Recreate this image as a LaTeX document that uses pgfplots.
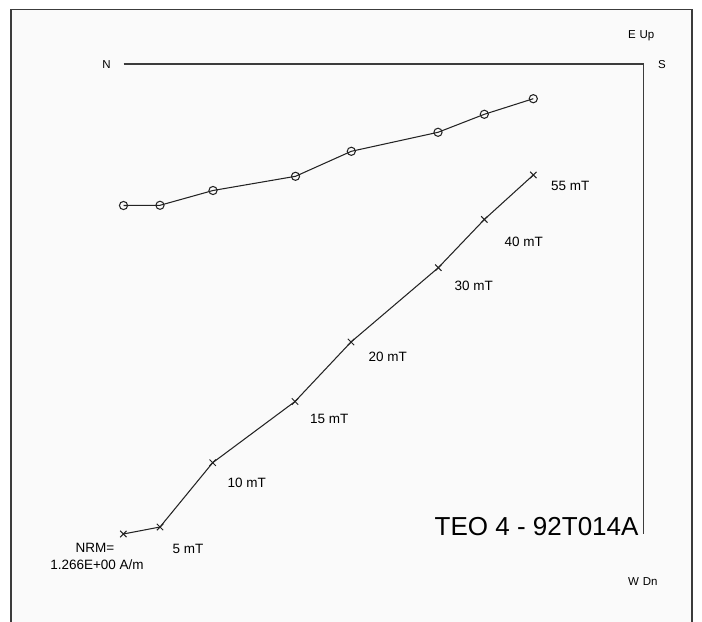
\documentclass[border=0pt]{standalone}
\usepackage{pgfplots}
\pgfplotsset{compat=1.18}
\usepackage{fontspec}
\setmainfont{Liberation Sans}
\definecolor{ink}{RGB}{35,35,35}
\definecolor{frame}{RGB}{60,60,60}
\definecolor{bg}{RGB}{250,250,250}
\begin{document}
\begin{tikzpicture}
\useasboundingbox (0,0) rectangle (702bp,622bp);
\clip (0,0) rectangle (702bp,622bp);
\fill[white] (0,0) rectangle (702bp,622bp);
\begin{axis}[
  at={(0,0)}, anchor=south west,
  scale only axis, width=702bp, height=622bp,
  xmin=0, xmax=702, ymin=0, ymax=622, y dir=reverse,
  hide axis, clip=false,
  every node/.style={text=ink, inner sep=0pt},
]
% frame
\draw[frame, line width=1.2bp, fill=bg] (axis cs:11,9.5) rectangle (axis cs:692,660);
% axes of the diagram
\addplot[frame, line width=1.1bp, no marks] coordinates {(123.5,64) (643.3,64) (643.3,534)};
% horizontal projection (N-S vs E-W), open circles
\addplot[ink, line width=1.05bp, mark=o, mark size=4.1pt, mark options={line width=1.05bp, fill=none}] coordinates {
(123.5,205.5) (160,205.3) (213,190.5) (295.5,176.3) (351.3,151.3) (438,132.3) (484.3,114.3) (533.3,98.7)};
% vertical projection (N-S vs Up-Dn), crosses
\addplot[ink, line width=1.05bp, mark=x, mark size=4.5pt, mark options={line width=1.05bp}] coordinates {
(123.3,534) (160,527) (212.7,462.7) (295,401.5) (351,342) (438.3,267.7) (484.3,219.5) (533.3,175)};
% step labels
\begin{scope}[every node/.append style={font=\fontsize{13.5bp}{15bp}\selectfont, anchor=west}]
\node at (axis cs:169,549) {5 mT};
\node at (axis cs:224,483.3) {10 mT};
\node at (axis cs:306.5,419.3) {15 mT};
\node at (axis cs:365,356.7) {20 mT};
\node at (axis cs:451,286) {30 mT};
\node at (axis cs:501,241.7) {40 mT};
\node at (axis cs:547.5,186) {55 mT};
\end{scope}
\node[font=\fontsize{13.5bp}{15bp}\selectfont] at (axis cs:95,548) {NRM=};
\node[font=\fontsize{13.5bp}{15bp}\selectfont] at (axis cs:97,564.5) {1.266E+00 A/m};
% direction labels
\begin{scope}[every node/.append style={font=\fontsize{11.5bp}{13bp}\selectfont}]
\node at (axis cs:106.5,64.5) {N};
\node at (axis cs:662,65) {S};
\node[anchor=west] at (axis cs:624.5,36) {E\hspace{4bp}Up};
\node[anchor=west] at (axis cs:624.5,581.5) {W\hspace{4bp}Dn};
\end{scope}
% sample name
\node[anchor=base east, font=\fontsize{26bp}{30bp}\selectfont] at (axis cs:642,535) {TEO 4 - 92T014A};
\end{axis}
\end{tikzpicture}
\end{document}
